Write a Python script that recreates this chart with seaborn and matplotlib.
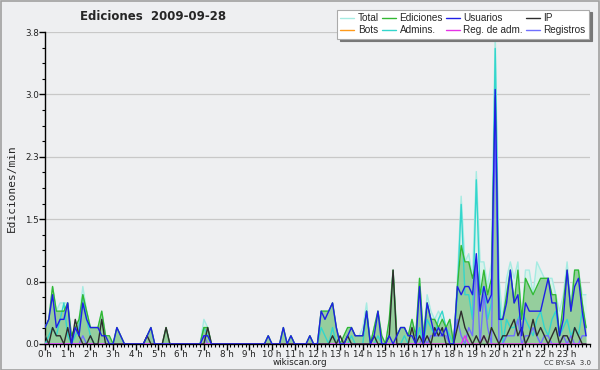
import numpy as np
import pandas as pd
import matplotlib
matplotlib.use("Agg")
import matplotlib.pyplot as plt
from matplotlib.patches import Rectangle
from matplotlib.ticker import MultipleLocator, FixedLocator
import seaborn as sns

# 10-minute buckets, edits per minute (6 values per hour, hours 0..23)
total = [
    0.2, 0.3, 0.7, 0.4, 0.5, 0.5,
    0.5, 0.1, 0.2, 0.3, 0.7, 0.4,
    0.2, 0.2, 0.2, 0.4, 0.1, 0.1,
    0.0, 0.2, 0.1, 0.0, 0.0, 0.0,
    0.0, 0.0, 0.0, 0.1, 0.2, 0.0,
    0.0, 0.0, 0.2, 0.0, 0.0, 0.0,
    0.0, 0.0, 0.0, 0.0, 0.0, 0.0,
    0.3, 0.2, 0.0, 0.0, 0.0, 0.0,
    0.0, 0.0, 0.0, 0.0, 0.0, 0.0,
    0.0, 0.0, 0.0, 0.0, 0.0, 0.1,
    0.0, 0.0, 0.0, 0.2, 0.0, 0.1,
    0.0, 0.0, 0.0, 0.0, 0.1, 0.0,
    0.0, 0.4, 0.4, 0.4, 0.5, 0.2,
    0.0, 0.1, 0.2, 0.2, 0.1, 0.1,
    0.2, 0.5, 0.0, 0.2, 0.4, 0.1,
    0.0, 0.3, 0.9, 0.1, 0.2, 0.2,
    0.1, 0.3, 0.1, 0.8, 0.1, 0.6,
    0.4, 0.3, 0.4, 0.3, 0.2, 0.3,
    0.0, 0.8, 1.8, 1.0, 1.1, 0.8,
    2.1, 1.0, 1.0, 0.7, 1.0, 3.8,
    0.8, 0.3, 0.8, 1.0, 0.8, 1.0,
    0.3, 0.9, 0.9, 0.6, 1.0, 0.9,
    0.8, 0.8, 0.8, 0.6, 0.4, 0.6,
    1.0, 0.5, 0.9, 0.9, 0.6, 0.6,
]
ediciones = [
    0.2, 0.3, 0.7, 0.4, 0.4, 0.4,
    0.5, 0.1, 0.2, 0.3, 0.6, 0.4,
    0.2, 0.2, 0.2, 0.4, 0.1, 0.1,
    0.0, 0.2, 0.1, 0.0, 0.0, 0.0,
    0.0, 0.0, 0.0, 0.1, 0.2, 0.0,
    0.0, 0.0, 0.2, 0.0, 0.0, 0.0,
    0.0, 0.0, 0.0, 0.0, 0.0, 0.0,
    0.2, 0.2, 0.0, 0.0, 0.0, 0.0,
    0.0, 0.0, 0.0, 0.0, 0.0, 0.0,
    0.0, 0.0, 0.0, 0.0, 0.0, 0.1,
    0.0, 0.0, 0.0, 0.2, 0.0, 0.1,
    0.0, 0.0, 0.0, 0.0, 0.1, 0.0,
    0.0, 0.4, 0.4, 0.4, 0.5, 0.2,
    0.0, 0.1, 0.2, 0.2, 0.1, 0.1,
    0.1, 0.4, 0.0, 0.2, 0.4, 0.1,
    0.0, 0.3, 0.9, 0.1, 0.2, 0.2,
    0.1, 0.3, 0.1, 0.8, 0.1, 0.5,
    0.3, 0.3, 0.2, 0.3, 0.2, 0.3,
    0.0, 0.7, 1.2, 1.0, 1.0, 0.8,
    1.0, 0.6, 0.9, 0.6, 0.8, 3.0,
    0.3, 0.3, 0.6, 0.9, 0.5, 0.9,
    0.3, 0.8, 0.7, 0.6, 0.7, 0.8,
    0.8, 0.8, 0.6, 0.6, 0.1, 0.5,
    0.9, 0.4, 0.9, 0.9, 0.5, 0.2,
]
usuarios = [
    0.2, 0.3, 0.6, 0.2, 0.3, 0.3,
    0.5, 0.0, 0.2, 0.1, 0.5, 0.3,
    0.2, 0.2, 0.2, 0.1, 0.1, 0.0,
    0.0, 0.2, 0.1, 0.0, 0.0, 0.0,
    0.0, 0.0, 0.0, 0.1, 0.2, 0.0,
    0.0, 0.0, 0.0, 0.0, 0.0, 0.0,
    0.0, 0.0, 0.0, 0.0, 0.0, 0.0,
    0.1, 0.1, 0.0, 0.0, 0.0, 0.0,
    0.0, 0.0, 0.0, 0.0, 0.0, 0.0,
    0.0, 0.0, 0.0, 0.0, 0.0, 0.1,
    0.0, 0.0, 0.0, 0.2, 0.0, 0.1,
    0.0, 0.0, 0.0, 0.0, 0.1, 0.0,
    0.0, 0.4, 0.3, 0.4, 0.5, 0.2,
    0.0, 0.0, 0.1, 0.2, 0.1, 0.1,
    0.1, 0.4, 0.0, 0.1, 0.4, 0.0,
    0.0, 0.1, 0.0, 0.1, 0.2, 0.2,
    0.1, 0.1, 0.0, 0.7, 0.0, 0.5,
    0.3, 0.1, 0.2, 0.1, 0.2, 0.0,
    0.0, 0.7, 0.6, 0.7, 0.7, 0.6,
    1.1, 0.4, 0.7, 0.5, 0.6, 3.1,
    0.3, 0.3, 0.5, 0.9, 0.5, 0.6,
    0.1, 0.5, 0.4, 0.4, 0.4, 0.4,
    0.6, 0.8, 0.5, 0.5, 0.1, 0.3,
    0.9, 0.4, 0.7, 0.8, 0.4, 0.1,
]
ip = [
    0.1, 0.0, 0.2, 0.1, 0.1, 0.0,
    0.2, 0.0, 0.3, 0.1, 0.0, 0.0,
    0.1, 0.0, 0.0, 0.3, 0.0, 0.0,
    0.0, 0.0, 0.0, 0.0, 0.0, 0.0,
    0.0, 0.0, 0.0, 0.1, 0.0, 0.0,
    0.0, 0.0, 0.2, 0.0, 0.0, 0.0,
    0.0, 0.0, 0.0, 0.0, 0.0, 0.0,
    0.0, 0.2, 0.0, 0.0, 0.0, 0.0,
    0.0, 0.0, 0.0, 0.0, 0.0, 0.0,
    0.0, 0.0, 0.0, 0.0, 0.0, 0.0,
    0.0, 0.0, 0.0, 0.0, 0.0, 0.0,
    0.0, 0.0, 0.0, 0.0, 0.0, 0.0,
    0.0, 0.0, 0.0, 0.0, 0.1, 0.0,
    0.1, 0.0, 0.1, 0.0, 0.0, 0.0,
    0.0, 0.0, 0.0, 0.1, 0.0, 0.0,
    0.0, 0.1, 0.9, 0.0, 0.0, 0.0,
    0.0, 0.2, 0.0, 0.1, 0.0, 0.1,
    0.0, 0.2, 0.1, 0.2, 0.0, 0.0,
    0.0, 0.2, 0.4, 0.2, 0.1, 0.0,
    0.1, 0.0, 0.1, 0.0, 0.2, 0.1,
    0.0, 0.1, 0.1, 0.2, 0.3, 0.1,
    0.2, 0.0, 0.1, 0.3, 0.1, 0.2,
    0.1, 0.0, 0.1, 0.2, 0.0, 0.1,
    0.1, 0.0, 0.2, 0.1, 0.0, 0.0,
]
bots = [0.0] * 144
admins = [
    0.0, 0.1, 0.2, 0.1, 0.3, 0.5,
    0.1, 0.0, 0.1, 0.2, 0.6, 0.3,
    0.1, 0.0, 0.0, 0.0, 0.0, 0.0,
    0.0, 0.0, 0.0, 0.0, 0.0, 0.0,
    0.0, 0.0, 0.0, 0.0, 0.0, 0.0,
    0.0, 0.0, 0.0, 0.0, 0.0, 0.0,
    0.0, 0.0, 0.0, 0.0, 0.0, 0.0,
    0.2, 0.1, 0.0, 0.0, 0.0, 0.0,
    0.0, 0.0, 0.0, 0.0, 0.0, 0.0,
    0.0, 0.0, 0.0, 0.0, 0.0, 0.0,
    0.0, 0.0, 0.0, 0.0, 0.0, 0.0,
    0.0, 0.0, 0.0, 0.0, 0.0, 0.0,
    0.0, 0.2, 0.1, 0.0, 0.2, 0.0,
    0.0, 0.0, 0.0, 0.1, 0.0, 0.0,
    0.0, 0.4, 0.0, 0.0, 0.1, 0.0,
    0.0, 0.0, 0.0, 0.0, 0.0, 0.1,
    0.0, 0.0, 0.0, 0.2, 0.0, 0.3,
    0.2, 0.1, 0.3, 0.4, 0.2, 0.1,
    0.0, 0.6, 1.7, 0.6, 0.6, 0.3,
    2.0, 0.6, 0.7, 0.3, 0.5, 3.6,
    0.6, 0.0, 0.3, 0.2, 0.2, 0.3,
    0.4, 0.3, 0.2, 0.1, 0.3, 0.4,
    0.2, 0.1, 0.3, 0.4, 0.1, 0.2,
    0.3, 0.1, 0.2, 0.1, 0.4, 0.2,
]
reg_adm = [0.0] * 111 + [0.1] + [0.0] * 4 + [0.1] + [0.0] * 27
registros = [
    0.0, 0.0, 0.0, 0.0, 0.0, 0.0,
    0.0, 0.0, 0.0, 0.0, 0.1, 0.0,
    0.0, 0.0, 0.0, 0.0, 0.0, 0.0,
    0.0, 0.0, 0.0, 0.0, 0.0, 0.0,
    0.0, 0.0, 0.0, 0.0, 0.0, 0.0,
    0.0, 0.0, 0.0, 0.0, 0.0, 0.0,
    0.0, 0.0, 0.0, 0.0, 0.0, 0.0,
    0.1, 0.0, 0.0, 0.0, 0.0, 0.0,
    0.0, 0.0, 0.0, 0.0, 0.0, 0.0,
    0.0, 0.0, 0.0, 0.0, 0.0, 0.0,
    0.0, 0.0, 0.0, 0.0, 0.0, 0.0,
    0.0, 0.0, 0.0, 0.0, 0.0, 0.0,
    0.0, 0.0, 0.0, 0.0, 0.0, 0.0,
    0.0, 0.0, 0.0, 0.0, 0.0, 0.0,
    0.0, 0.0, 0.0, 0.0, 0.0, 0.0,
    0.0, 0.0, 0.0, 0.0, 0.0, 0.0,
    0.0, 0.0, 0.0, 0.0, 0.1, 0.0,
    0.1, 0.1, 0.1, 0.1, 0.1, 0.0,
    0.0, 0.3, 0.1, 0.0, 0.2, 0.1,
    1.0, 0.0, 0.6, 0.2, 0.0, 2.7,
    0.0, 0.0, 0.1, 0.1, 0.1, 0.3,
    0.0, 0.1, 0.1, 0.2, 0.1, 0.0,
    0.1, 0.1, 0.0, 0.0, 0.0, 0.1,
    0.0, 0.1, 0.0, 0.0, 0.1, 0.1,
]
hour_labels = [f"{h} h" for h in range(24)]
y_ticks = [0.0, 0.76, 1.52, 2.28, 3.04, 3.8]
y_labels = ["0.0", "0.8", "1.5", "2.3", "3.0", "3.8"]

series_names = ["Total", "Ediciones", "Usuarios", "IP", "Bots", "Admins.", "Reg. de adm.", "Registros"]
series_vals = [total, ediciones, usuarios, ip, bots, admins, reg_adm, registros]
series_colors = ["#a6ebe2", "#33b833", "#1f1fe6", "#2d2d2d", "#ff9a1a", "#33d6cc", "#e633e6", "#7070ff"]

hours = np.arange(144) / 6.0
df = pd.DataFrame({"hour": hours})
for n, v in zip(series_names, series_vals):
    df[n] = v
long = df.melt(id_vars="hour", var_name="serie", value_name="val")

sns.set_theme(style="white")
plt.rcParams["font.family"] = ["DejaVu Sans"]

bg = "#eeeff1"
fig = plt.figure(figsize=(6.0, 3.7), dpi=100, facecolor=bg)
fig.patches.append(Rectangle((0.001, 0.001), 0.997, 0.996, transform=fig.transFigure,
                             fill=False, edgecolor="#a0a0a0", linewidth=1.2))
ax = fig.add_axes([0.075, 0.0703, 0.908, 0.8432])
ax.set_facecolor(bg)

ax.fill_between(df["hour"], df["Total"], 0, color="#d8f2ec", linewidth=0, zorder=1)
ax.fill_between(df["hour"], df["Ediciones"], 0, color="#8ecb95", alpha=0.9, linewidth=0, zorder=2)

palette = dict(zip(series_names, series_colors))
draw_order = ["Total", "Admins.", "Ediciones", "Registros", "Reg. de adm.", "IP", "Usuarios", "Bots"]
for z, n in enumerate(draw_order):
    sub = long[long["serie"] == n]
    if n == "Bots":
        continue
    sns.lineplot(data=sub, x="hour", y="val", color=palette[n], linewidth=1.0,
                 ax=ax, legend=False, zorder=3 + z)

ax.set_xlim(0, 24)
ax.set_ylim(0, 3.8)
ax.yaxis.set_major_locator(FixedLocator(y_ticks))
ax.set_yticklabels(y_labels)
ax.yaxis.set_minor_locator(MultipleLocator(0.19))
ax.set_xticks(range(24))
ax.set_xticklabels(hour_labels)
ax.xaxis.set_minor_locator(MultipleLocator(1 / 6))
ax.grid(axis="y", which="major", color="#c8c8c8", linewidth=0.9)
ax.set_axisbelow(True)
for s in ["top", "right"]:
    ax.spines[s].set_visible(False)
ax.spines["left"].set_color("black")
ax.spines["bottom"].set_color("black")
ax.spines["left"].set_linewidth(1.0)
ax.spines["bottom"].set_linewidth(1.0)
ax.tick_params(axis="both", which="major", length=4, width=1, color="black",
               labelsize=6.3, labelcolor="#222222", pad=0.5, direction="out", left=True, bottom=True)
ax.tick_params(axis="both", which="minor", length=2.5, width=0.8, color="black", left=True, bottom=True)
ax.set_xlabel("")
ax.set_ylabel("Ediciones/min", fontsize=8, family="DejaVu Sans Mono", labelpad=6)

fig.text(0.255, 0.955, "Ediciones  2009-09-28", fontsize=8.5, fontweight="bold", ha="center", va="center")
fig.text(0.5, 0.02, "wikiscan.org", fontsize=6.3, ha="center", va="center", color="#222222")
fig.text(0.985, 0.02, "CC BY-SA  3.0", fontsize=5.0, ha="right", va="center", color="#333333")

handles = [plt.Line2D([], [], color=palette[n], linewidth=1.0) for n in series_names]
order = [0, 4, 1, 5, 2, 6, 3, 7]
leg = fig.legend([handles[i] for i in order], [series_names[i] for i in order],
                 ncol=4, loc="upper right", bbox_to_anchor=(0.982, 0.974),
                 prop={"family": "Liberation Sans", "size": 7.2},
                 frameon=True, fancybox=False, shadow={"color": "#777777", "alpha": 1},
                 handlelength=1.4, handletextpad=0.35, columnspacing=0.3, labelspacing=0.2,
                 borderpad=0.35, borderaxespad=0)
leg.get_frame().set_edgecolor("#aaaaaa")
leg.get_frame().set_facecolor("white")
leg.get_frame().set_linewidth(0.8)

fig.savefig("out.png", dpi=100, facecolor=bg)
